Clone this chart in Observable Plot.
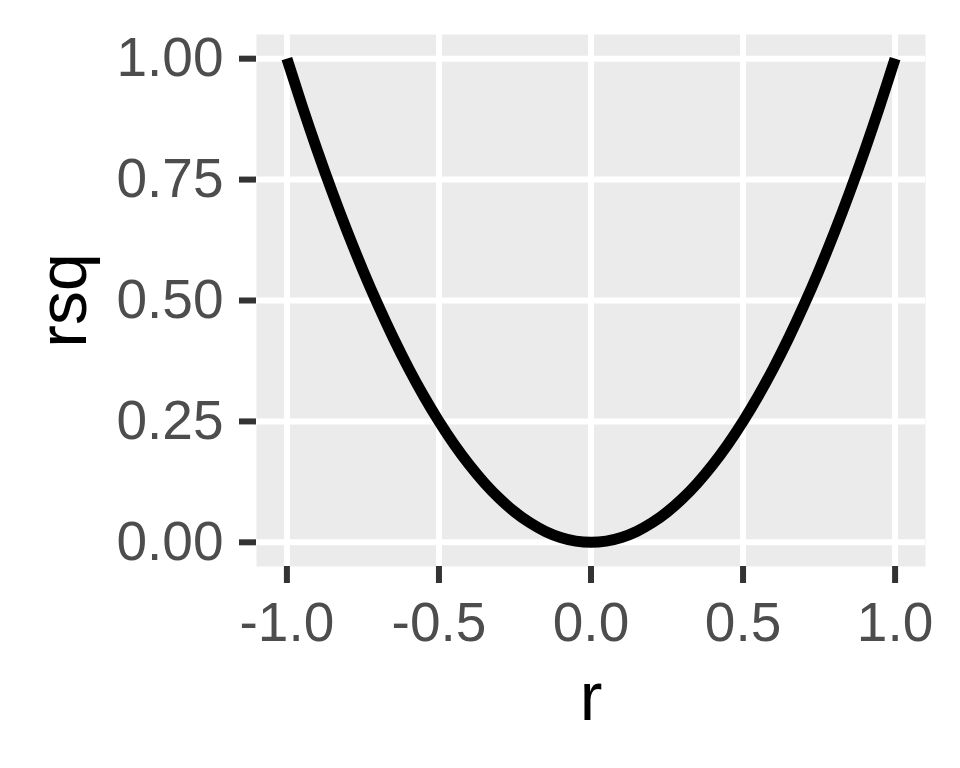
<!DOCTYPE html>
<html>
<head>
<meta charset="utf-8">
<script src="https://cdn.jsdelivr.net/npm/d3@7"></script>
<script src="https://cdn.jsdelivr.net/npm/@observablehq/plot@0.6"></script>
<style>
  html, body { margin: 0; padding: 0; background: #ffffff; }
  #chart svg { display: block; font-family: "Liberation Sans", Arial, sans-serif; }
</style>
</head>
<body>
<div id="chart"></div>
<script>
// Values
const rValues = [-1.00, -0.95, -0.90, -0.85, -0.80, -0.75, -0.70, -0.65, -0.60, -0.55, -0.50,
                 -0.45, -0.40, -0.35, -0.30, -0.25, -0.20, -0.15, -0.10, -0.05, 0.00,
                 0.05, 0.10, 0.15, 0.20, 0.25, 0.30, 0.35, 0.40, 0.45, 0.50,
                 0.55, 0.60, 0.65, 0.70, 0.75, 0.80, 0.85, 0.90, 0.95, 1.00];
const rsqValues = [1.0000, 0.9025, 0.8100, 0.7225, 0.6400, 0.5625, 0.4900, 0.4225, 0.3600, 0.3025, 0.2500,
                   0.2025, 0.1600, 0.1225, 0.0900, 0.0625, 0.0400, 0.0225, 0.0100, 0.0025, 0.0000,
                   0.0025, 0.0100, 0.0225, 0.0400, 0.0625, 0.0900, 0.1225, 0.1600, 0.2025, 0.2500,
                   0.3025, 0.3600, 0.4225, 0.4900, 0.5625, 0.6400, 0.7225, 0.8100, 0.9025, 1.0000];
const xTicks = [-1.0, -0.5, 0.0, 0.5, 1.0];
const yTicks = [0.00, 0.25, 0.50, 0.75, 1.00];
const xTitle = "r";
const yTitle = "rsq";

const data = rValues.map((r, i) => ({r, rsq: rsqValues[i]}));

const chart = Plot.plot({
  width: 960,
  height: 768,
  marginLeft: 256,
  marginRight: 35,
  marginTop: 34,
  marginBottom: 202,
  x: {domain: [-1.1, 1.1]},
  y: {domain: [-0.05, 1.05]},
  style: {fontFamily: "'Liberation Sans', Arial, sans-serif", background: "#ffffff"},
  marks: [
    Plot.frame({fill: "#EBEBEB", stroke: null}),
    Plot.ruleX(xTicks, {x: d => d, stroke: "#ffffff", strokeWidth: 6}),
    Plot.ruleY(yTicks, {y: d => d, stroke: "#ffffff", strokeWidth: 6}),
    Plot.axisX(xTicks, {
      tickSize: 17, tickPadding: 18, fontSize: 55,
      stroke: "#333333", fill: "#4D4D4D", strokeWidth: 6,
      tickFormat: d => d.toFixed(1), label: null
    }),
    Plot.axisY(yTicks, {
      tickSize: 17, tickPadding: 16, fontSize: 55,
      stroke: "#333333", fill: "#4D4D4D", strokeWidth: 6,
      tickFormat: d => d.toFixed(2), label: null
    }),
    Plot.line(data, {x: "r", y: "rsq", stroke: "#000000", strokeWidth: 11,
      curve: "natural", strokeLinecap: "butt", strokeLinejoin: "round"}),
    Plot.text([xTitle], {text: d => d, frameAnchor: "bottom", textAnchor: "middle", lineAnchor: "middle",
      dy: 132, fontSize: 68, fill: "#000000"}),
    Plot.text([yTitle], {text: d => d, frameAnchor: "left", textAnchor: "middle", lineAnchor: "middle",
      dx: -192, rotate: -90, fontSize: 68, fill: "#000000"})
  ]
});

document.getElementById("chart").appendChild(chart);
</script>
</body>
</html>
